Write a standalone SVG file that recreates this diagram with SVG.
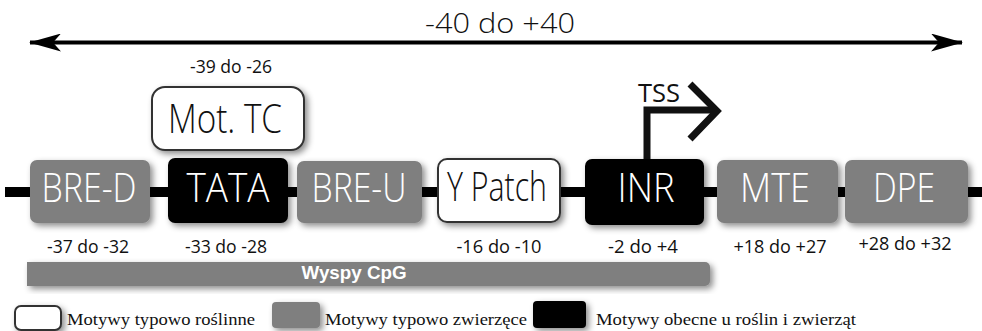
<svg xmlns="http://www.w3.org/2000/svg" width="982" height="331" viewBox="0 0 982 331">
  <defs>
    <filter id="shadow" x="-20%" y="-30%" width="140%" height="160%">
      <feDropShadow dx="3" dy="3" stdDeviation="3" flood-color="#000" flood-opacity="0.45"/>
    </filter>
    <marker id="barb" viewBox="0 0 32 18" refX="31" refY="9" markerWidth="32" markerHeight="18" markerUnits="userSpaceOnUse" orient="auto-start-reverse">
      <path d="M0,0 L32,9 L0,18 L8,9 Z" fill="#000"/>
    </marker>
    <style>
      .grey { fill: #7f7f7f; }
      .black { fill: #000; }
      .white { fill: #fff; stroke: #333; stroke-width: 2; }
      .lbl { font-family: "Open Sans", "Liberation Sans", sans-serif; font-weight: 300; font-size: 40px; text-anchor: middle; }
      .on-dark { fill: #fff; }
      .on-light { fill: #111; }
      .pos { font-family: "Open Sans", "Liberation Sans", sans-serif; font-size: 18px; fill: #111; text-anchor: middle; }
      .legend { font-family: "Liberation Serif", "DejaVu Serif", serif; font-size: 16px; fill: #111; }
    </style>
  </defs>

  <rect width="982" height="331" fill="#fff"/>

  <!-- connectors -->
  <g id="connectors">
    <line x1="30" y1="42.5" x2="962" y2="42.5" stroke="#000" stroke-width="4" marker-start="url(#barb)" marker-end="url(#barb)"/>
    <line x1="5" y1="192" x2="982" y2="192" stroke="#000" stroke-width="10"/>
    <path d="M647,159 V110 H714" fill="none" stroke="#111" stroke-width="7"/>
    <polyline points="690,84 717,111 690,139" fill="none" stroke="#111" stroke-width="7"/>
  </g>

  <text x="500" y="33" font-family="Open Sans, Liberation Sans, sans-serif" font-weight="300" font-size="28" fill="#111" text-anchor="middle" textLength="150" lengthAdjust="spacingAndGlyphs">-40 do +40</text>
  <text x="231" y="73" class="pos" font-size="15" textLength="82" lengthAdjust="spacingAndGlyphs">-39 do -26</text>
  <text x="659" y="101.5" font-family="Open Sans, Liberation Sans, sans-serif" font-size="25" fill="#111" text-anchor="middle" textLength="42" lengthAdjust="spacingAndGlyphs">TSS</text>

  <g id="mot-tc">
    <rect x="152" y="87" width="152" height="63" rx="13" class="white" filter="url(#shadow)"/>
    <text x="225" y="133" class="lbl on-light" font-size="42" textLength="114" lengthAdjust="spacingAndGlyphs">Mot. TC</text>
  </g>

  <g id="bre-d">
    <rect x="30" y="160" width="120" height="63" rx="7" class="grey" filter="url(#shadow)"/>
    <text x="89" y="202" class="lbl on-dark" textLength="95" lengthAdjust="spacingAndGlyphs">BRE-D</text>
  </g>
  <g id="tata">
    <rect x="168" y="158" width="120" height="65" rx="7" class="black" filter="url(#shadow)"/>
    <text x="228" y="202" class="lbl on-dark" textLength="83" lengthAdjust="spacingAndGlyphs">TATA</text>
  </g>
  <g id="bre-u">
    <rect x="297" y="161" width="125" height="62" rx="7" class="grey" filter="url(#shadow)"/>
    <text x="359" y="202" class="lbl on-dark" textLength="95" lengthAdjust="spacingAndGlyphs">BRE-U</text>
  </g>
  <g id="y-patch">
    <rect x="438" y="159" width="122" height="63" rx="9" class="white" filter="url(#shadow)"/>
    <text x="497" y="201" class="lbl on-light" font-size="36" font-weight="400" textLength="100" lengthAdjust="spacingAndGlyphs">Y Patch</text>
  </g>
  <g id="inr">
    <rect x="585" y="159" width="119" height="66" rx="7" class="black" filter="url(#shadow)"/>
    <text x="646" y="202" class="lbl on-dark" textLength="57" lengthAdjust="spacingAndGlyphs">INR</text>
  </g>
  <g id="mte">
    <rect x="717" y="160" width="121" height="63" rx="7" class="grey" filter="url(#shadow)"/>
    <text x="775" y="202" class="lbl on-dark" textLength="70" lengthAdjust="spacingAndGlyphs">MTE</text>
  </g>
  <g id="dpe">
    <rect x="845" y="160" width="123" height="63" rx="7" class="grey" filter="url(#shadow)"/>
    <text x="904" y="202" class="lbl on-dark" textLength="62" lengthAdjust="spacingAndGlyphs">DPE</text>
  </g>

  <!-- position ranges -->
  <text x="88" y="252.5" class="pos" textLength="82" lengthAdjust="spacingAndGlyphs">-37 do -32</text>
  <text x="226" y="252.5" class="pos" textLength="82" lengthAdjust="spacingAndGlyphs">-33 do -28</text>
  <text x="499" y="252.5" class="pos" textLength="85" lengthAdjust="spacingAndGlyphs">-16 do -10</text>
  <text x="643" y="252.5" class="pos" textLength="70" lengthAdjust="spacingAndGlyphs">-2 do +4</text>
  <text x="780" y="252.5" class="pos" textLength="93" lengthAdjust="spacingAndGlyphs">+18 do +27</text>
  <text x="905" y="250" class="pos" textLength="93" lengthAdjust="spacingAndGlyphs">+28 do +32</text>

  <g id="cpg">
    <path d="M27,262 H705 A5,5 0 0 1 710,267 V281 A5,5 0 0 1 705,286 H27 Z" class="grey" filter="url(#shadow)"/>
    <text x="354" y="279" font-family="Liberation Sans, Arial, sans-serif" font-weight="bold" font-size="18" fill="#fff" text-anchor="middle" textLength="105" lengthAdjust="spacingAndGlyphs">Wyspy CpG</text>
  </g>

  <!-- legend -->
  <g id="legend-plant">
    <rect x="15" y="306" width="46" height="24" rx="6" class="white" filter="url(#shadow)"/>
    <text x="67" y="325" class="legend" textLength="188" lengthAdjust="spacingAndGlyphs">Motywy typowo roślinne</text>
  </g>
  <g id="legend-animal">
    <rect x="272" y="302" width="48" height="26" rx="4" class="grey" filter="url(#shadow)"/>
    <text x="325" y="325" class="legend" textLength="202" lengthAdjust="spacingAndGlyphs">Motywy typowo zwierzęce</text>
  </g>
  <g id="legend-both">
    <rect x="533" y="301" width="53" height="27" rx="4" class="black" filter="url(#shadow)"/>
    <text x="596" y="325" class="legend" textLength="260" lengthAdjust="spacingAndGlyphs">Motywy obecne u roślin i zwierząt</text>
  </g>
</svg>
